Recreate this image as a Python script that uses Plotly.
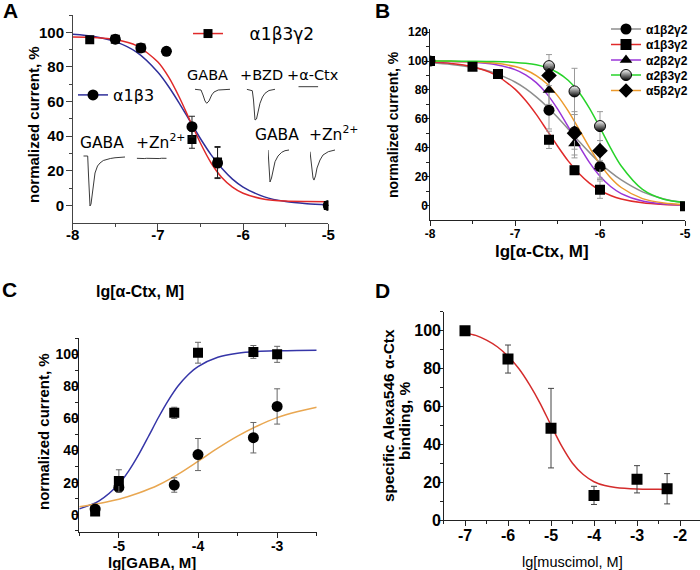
import plotly.graph_objects as go

W, H = 700, 570


def px_x(x):
    return x / W


def px_y(y):
    return 1 - y / H


# ---------------- Panel A data ----------------
a_x_a1b3 = [-7.5, -7.2, -6.9, -6.6, -6.3, -5.0]
a_y_a1b3 = [96, 91, 89, 45.5, 24.5, 0]
a_e_a1b3 = [0, 0, 0, 6, 9, 0]
a_x_a1b3g2 = [-7.8, -7.5, -7.2, -6.6, -6.3, -5.0]
a_y_a1b3g2 = [95.7, 96, 91, 38, 25, 0]
a_e_a1b3g2 = [0, 0, 0, 5, 9, 0]
a_fit_x = [-8, -7.75, -7.5, -7.25, -7, -6.875, -6.75, -6.625, -6.5, -6.375,
           -6.25, -6.125, -6, -5.75, -5.5, -5.25, -5]
a_fit_a1b3 = [98.9, 97.6, 94.6, 88.5, 76.9, 68.7, 59.1, 48.8, 38.5, 29.2,
              21.4, 15.2, 10.6, 4.9, 2.2, 1.0, 0.4]
a_fit_a1b3g2 = [97.3, 97.0, 95.8, 92.3, 82.8, 74.2, 62.6, 49.2, 35.9, 24.5,
                16.1, 10.5, 7.0, 3.6, 2.5, 2.2, 2.1]
a_xticks = [-8, -7, -6, -5]
a_xticktext = ["-8", "-7", "-6", "-5"]
a_yticks = [0, 20, 40, 60, 80, 100]

# current traces shown in panel A (time, s ; normalised current)
tr_ll_gaba_t = [0, 0.44, 0.52, 0.60, 0.67, 0.77, 0.92, 1.17, 1.42, 1.67, 2.0, 2.34, 2.7, 3.17, 3.6, 4.17]
tr_ll_gaba_i = [0, 0, -0.38, -0.88, -1.0, -0.96, -0.68, -0.34, -0.20, -0.14, -0.09, -0.066, -0.05, -0.035, -0.03, -0.02]
tr_ll_zn_t = [0, 0.25, 0.5, 0.75, 1.0, 1.25, 1.5, 1.75, 2.0, 2.25, 2.5, 2.75, 3.0]
tr_ll_zn_i = [0, -0.004, 0.002, -0.005, 0.0, -0.004, 0.002, -0.007, -0.003, -0.005, 0.001, -0.003, 0.0]
tr_u_gaba_t = [0, 0.6, 0.8, 1.0, 1.17, 1.4, 1.67, 1.9, 2.33, 2.9, 3.5]
tr_u_gaba_i = [0, -0.023, -0.184, -0.377, -0.452, -0.377, -0.184, -0.087, -0.023, -0.006, 0]
tr_u_bzd_t = [0, 0.56, 0.68, 0.76, 0.83, 0.98, 1.13, 1.33, 1.58, 1.83, 2.23, 2.83]
tr_u_bzd_i = [0, -0.045, -0.345, -0.732, -0.99, -0.958, -0.732, -0.452, -0.248, -0.129, -0.039, 0]
tr_u_ctx_t = [0, 0.5, 1.0, 1.5, 2.0]
tr_u_ctx_i = [0, -0.005, 0.0, -0.004, 0]
tr_r_gaba_t = [0, 0.07, 0.13, 0.2, 0.35, 0.5, 0.7, 1.0, 1.37, 1.7, 2.1]
tr_r_gaba_i = [0, -0.47, -0.875, -1.0, -0.875, -0.625, -0.366, -0.1875, -0.072, -0.022, 0]
tr_r_zn_t = [0, 0.15, 0.3, 0.4, 0.55, 0.7, 1.0, 1.3, 1.83, 2.5]
tr_r_zn_i = [-0.053, -0.47, -0.875, -0.94, -0.81, -0.5625, -0.3125, -0.156, -0.053, 0]

# ---------------- Panel B data ----------------
b_series = ["α1β2γ2", "α1β3γ2", "α2β2γ2", "α2β3γ2", "α5β2γ2"]
b_x_a1b2g2 = [-8, -6.6, -6.3, -6]
b_y_a1b2g2 = [100, 66, 51, 27]
b_e_a1b2g2 = [0, 13, 12, 9]
b_x_a1b3g2 = [-8, -7.5, -7.2, -6.6, -6.3, -6, -5]
b_y_a1b3g2 = [100, 96, 91, 45.5, 24.5, 11, -0.5]
b_e_a1b3g2 = [0, 0, 0, 6, 3, 6, 0]
b_x_a2b2g2 = [-6.6, -6.3, -6]
b_y_a2b2g2 = [80, 43, 27]
b_e_a2b2g2 = [10, 10, 8]
b_x_a2b3g2 = [-6.6, -6.3, -6]
b_y_a2b3g2 = [96.5, 79, 55]
b_e_a2b3g2 = [8, 16, 10]
b_x_a5b2g2 = [-6.6, -6.3, -6]
b_y_a5b2g2 = [90, 50, 38]
b_e_a5b2g2 = [7, 15, 7]
b_fit_x = [-8, -7.75, -7.5, -7.25, -7, -6.875, -6.75, -6.625, -6.5, -6.375,
           -6.25, -6.125, -6, -5.875, -5.75, -5.5, -5.25, -5]
b_fit_a1b2g2 = [98.8, 97.7, 95.7, 92.0, 85.5, 80.9, 75.2, 68.6, 61.1, 53.0,
                44.7, 36.8, 29.4, 23.1, 17.7, 9.5, 4.6, 2.0]
b_fit_a1b3g2 = [99.3, 98.4, 96.1, 91.0, 80.6, 72.7, 63.1, 52.2, 41.2, 30.9,
                22.3, 15.5, 10.5, 7.0, 4.6, 1.9, 0.8, 0.3]
b_fit_a2b2g2 = [99.9, 99.7, 99.2, 97.8, 94.1, 90.5, 85.1, 77.3, 66.9, 54.6,
                41.8, 29.9, 20.3, 13.2, 8.3, 3.1, 1.1, 0.4]
b_fit_a2b3g2 = [100, 100, 99.9, 99.7, 99.1, 98.5, 97.4, 95.4, 92.1, 86.7,
                78.6, 67.4, 53.9, 39.8, 27.4, 11.2, 4.4, 2.1]
b_fit_a5b2g2 = [99.9, 99.8, 99.5, 98.6, 96.2, 93.8, 90.0, 84.3, 76.1, 65.5,
                53.1, 40.3, 28.7, 19.3, 12.5, 4.8, 1.8, 0.6]
b_yticks = [0, 20, 40, 60, 80, 100, 120]

# ---------------- Panel C data ----------------
c_x = [-5.3, -5, -4.3, -4, -3.3, -3]
c_y_sq = [2, 21, 63.5, 101, 101.5, 100]
c_e_sq = [2, 7, 3.5, 6.5, 4, 5]
c_y_ci = [3.5, 17, 18.5, 37.5, 48, 67.5]
c_e_ci = [0, 0, 4.5, 10, 9.5, 11]
c_fit_x_blue = [-5.5, -5.25, -5, -4.875, -4.75, -4.625, -4.5, -4.375, -4.25,
                -4.125, -4, -3.75, -3.5, -3.25, -3, -2.75, -2.5]
c_fit_blue = [3.6, 8.6, 19.1, 27.3, 37.4, 48.9, 60.6, 71.3, 80.4, 87.3, 92.4,
              98.2, 100.7, 101.8, 102.2, 102.4, 102.5]
c_fit_x_orange = [-5.5, -5.25, -5, -4.75, -4.5, -4.25, -4, -3.75, -3.5, -3.25, -3, -2.75, -2.5]
c_fit_orange = [5.0, 7.0, 9.6, 13.5, 18.5, 25.3, 33.3, 41.5, 49.0, 55.3, 60.5, 64.2, 67.0]
c_xticks = [-5, -4, -3]
c_xticktext = ["-5", "-4", "-3"]

# ---------------- Panel D data ----------------
d_x = [-7, -6, -5, -4, -3, -2.3]
d_y = [100, 85, 48.5, 13, 21.5, 16.5]
d_e = [0, 7.4, 21, 4.8, 7.2, 8]
d_fit_x = [-7, -6.75, -6.5, -6.25, -6, -5.75, -5.5, -5.25, -5, -4.75, -4.5,
           -4.25, -4, -3.75, -3.5, -3, -2.5, -2.3]
d_fit_y = [98.8, 97.5, 95, 91.5, 86.5, 80, 71.5, 61.5, 50, 39, 30, 24, 20.2,
           18.2, 17.2, 16.4, 16.2, 16.1]
d_xticks = [-7, -6, -5, -4, -3, -2]
d_xticktext = ["-7", "-6", "-5", "-4", "-3", "-2"]

# ---------------- colours ----------------
BLUE_A = "#2f2f9a"
RED_A = "#e02a2a"
GRAY_B = "#8e8e8e"
RED_B = "#e02a2a"
PURPLE_B = "#9a36d8"
GREEN_B = "#27d32a"
ORANGE_B = "#ec9a2c"
BLUE_C = "#3636a8"
ORANGE_C = "#e9a751"
RED_D = "#d42c2c"
ARIAL = "Liberation Sans"
DEJAVU = "DejaVu Sans"

fig = go.Figure()


def line(x, y, color, xa, ya, width=1.5):
    fig.add_trace(go.Scatter(x=x, y=y, mode="lines", xaxis=xa, yaxis=ya,
                             line=dict(color=color, width=width, shape="spline", smoothing=0.8),
                             showlegend=False, hoverinfo="skip"))


def pts(x, y, e, symbol, xa, ya, size=10, ecolor="#333", color="black", extra=None):
    marker = dict(symbol=symbol, size=size, color=color, line=dict(width=0))
    if extra:
        marker.update(extra)
    fig.add_trace(go.Scatter(x=x, y=y, mode="markers", xaxis=xa, yaxis=ya,
                             error_y=dict(type="data", array=e, color=ecolor, thickness=1, width=3),
                             marker=marker, showlegend=False, hoverinfo="skip"))


def legend_item(name, color, symbol, legend, size=10, extra=None):
    marker = dict(symbol=symbol, size=size, color="black", line=dict(width=0))
    if extra:
        marker.update(extra)
    fig.add_trace(go.Scatter(x=[None], y=[None], mode="lines+markers", name=name,
                             line=dict(color=color, width=1.5), marker=marker,
                             legend=legend, xaxis="x", yaxis="y"))


# Panel A
line(a_fit_x, a_fit_a1b3, BLUE_A, "x", "y")
line(a_fit_x, a_fit_a1b3g2, RED_A, "x", "y")
pts(a_x_a1b3g2, a_y_a1b3g2, a_e_a1b3g2, "square", "x", "y", size=9, ecolor="#222")
pts(a_x_a1b3, a_y_a1b3, a_e_a1b3, "circle", "x", "y", size=11, ecolor="#222")
legend_item("\u00a0\u00a0\u00a0\u00a0α1β3γ2", RED_A, "square", "legend2", size=9)
legend_item("α1β3", BLUE_A, "circle", "legend3", size=11)

half = dict(color="white", line=dict(color="black", width=1),
            gradient=dict(type="vertical", color="black"))

# Panel B
line(b_fit_x, b_fit_a1b2g2, GRAY_B, "x2", "y2")
line(b_fit_x, b_fit_a1b3g2, RED_B, "x2", "y2")
line(b_fit_x, b_fit_a2b2g2, PURPLE_B, "x2", "y2")
line(b_fit_x, b_fit_a5b2g2, ORANGE_B, "x2", "y2")
line(b_fit_x, b_fit_a2b3g2, GREEN_B, "x2", "y2")
pts(b_x_a1b2g2, b_y_a1b2g2, b_e_a1b2g2, "circle", "x2", "y2", size=11, ecolor="#999")
pts(b_x_a1b3g2, b_y_a1b3g2, b_e_a1b3g2, "square", "x2", "y2", size=10, ecolor="#999")
pts(b_x_a2b2g2, b_y_a2b2g2, b_e_a2b2g2, "triangle-up", "x2", "y2", size=11, ecolor="#999")
pts(b_x_a2b3g2, b_y_a2b3g2, b_e_a2b3g2, "circle", "x2", "y2", size=11, ecolor="#999", extra=half)
pts(b_x_a5b2g2, b_y_a5b2g2, b_e_a5b2g2, "diamond", "x2", "y2", size=12, ecolor="#999")
b_colors = [GRAY_B, RED_B, PURPLE_B, GREEN_B, ORANGE_B]
b_symbols = ["circle", "square", "triangle-up", "circle", "diamond"]
b_legends = ["legend", "legend4", "legend5", "legend6", "legend7"]
b_legend_tops = [14.5, 30, 45.5, 60.5, 76]
for i, name in enumerate(b_series):
    legend_item(name, b_colors[i], b_symbols[i], b_legends[i], size=11,
                extra=half if i == 3 else None)

# Panel C
line(c_fit_x_blue, c_fit_blue, BLUE_C, "x3", "y3")
line(c_fit_x_orange, c_fit_orange, ORANGE_C, "x3", "y3")
pts(c_x, c_y_ci, c_e_ci, "circle", "x3", "y3", size=11, ecolor="#666")
pts(c_x, c_y_sq, c_e_sq, "square", "x3", "y3", size=10, ecolor="#666")

# Panel D
line(d_fit_x, d_fit_y, RED_D, "x4", "y4")
pts(d_x, d_y, d_e, "square", "x4", "y4", size=11, ecolor="#444")

# current-trace insets
insets = [
    (tr_ll_gaba_t, tr_ll_gaba_i, 83.3, 156, 50),
    (tr_ll_zn_t, tr_ll_zn_i, 136.7, 158.3, 50),
    (tr_u_gaba_t, tr_u_gaba_i, 195, 89.3, 31),
    (tr_u_bzd_t, tr_u_bzd_i, 246.7, 89.3, 31),
    (tr_u_ctx_t, tr_u_ctx_i, 298.3, 86.7, 31),
    (tr_r_gaba_t, tr_r_gaba_i, 268, 150, 32),
    (tr_r_zn_t, tr_r_zn_i, 310, 150, 32),
]

layout_axes = {}
for k, (t, cur, x0, base, scale) in enumerate(insets):
    n = 5 + k
    fig.add_trace(go.Scatter(x=t, y=cur, mode="lines", xaxis=f"x{n}", yaxis=f"y{n}",
                             line=dict(color="#3a3a3a", width=1), showlegend=False,
                             hoverinfo="skip"))
    span = t[-1]
    layout_axes[f"xaxis{n}"] = dict(domain=[px_x(x0), px_x(x0 + span * 10)], range=[0, span],
                                    visible=False, anchor=f"y{n}", fixedrange=True)
    layout_axes[f"yaxis{n}"] = dict(domain=[px_y(base + 1.1 * scale), px_y(base - 0.1 * scale)],
                                    range=[-1.1, 0.1], visible=False, anchor=f"x{n}", fixedrange=True)


def main_axis(domain, rng, minor_vals, tickvals, anchor, lc="#222", ticklen=5):
    return dict(domain=domain, range=rng, tickmode="array", tickvals=tickvals,
                showticklabels=False,
                showline=True, linecolor=lc, linewidth=1, ticks="outside", ticklen=ticklen,
                tickwidth=1, tickcolor=lc,
                minor=dict(tickmode="array", tickvals=minor_vals, ticks="outside",
                           ticklen=max(3, ticklen - 3), tickwidth=1, tickcolor=lc),
                showgrid=False, zeroline=False, anchor=anchor, fixedrange=True)


def label_axis(base, rng, tickvals, ticktext, size, position, side):
    return dict(overlaying=base, anchor="free", position=position, side=side, range=rng,
                tickmode="array", tickvals=tickvals, ticktext=ticktext, ticks="",
                showline=False, showgrid=False, zeroline=False, fixedrange=True,
                tickfont=dict(family=ARIAL, size=size, color="black", weight="bold"))


yt = lambda vals: [str(v) for v in vals]

# (x-domain px, y-domain px, x-range, y-range, xticks, xtext, yticks, minor x, minor y,
#  font size, x-label line py, y-label line px, axis colour, tick length)
panels = [
    ((72.7, 328.3), (222.7, 15), [-8, -5], [-10, 110], a_xticks, a_xticktext, a_yticks,
     [-7.5, -6.5, -5.5], [10, 30, 50, 70, 90, 110], 15, 223.6, 64.0, "#444", 6),
    ((430, 685), (220, 29.3), [-8, -5], [-10, 122], a_xticks, a_xticktext, b_yticks,
     [-7.5, -6.5, -5.5], [10, 30, 50, 70, 90, 110], 12, 225.0, 428.0, "#222", 5),
    ((79.3, 316.7), (532.3, 338.3), [-5.5, -2.5], [-11, 110], c_xticks, c_xticktext, a_yticks,
     [-5.5, -4.5, -3.5, -2.5], [-10, 10, 30, 50, 70, 90, 110], 14, 536.0, 78.8, "#222", 5),
    ((443.5, 700), (520, 311.7), [-7.5, -1.535], [0, 110], d_xticks, d_xticktext, a_yticks,
     [-7.5, -6.5, -5.5, -4.5, -3.5, -2.5], [10, 30, 50, 70, 90, 110], 16, 524.3, 441.0, "#222", 5),
]

for p, (xd, yd, xr, yr, xt, xtt, ytk, mx, my, fs, xl, yl, lc, tl) in enumerate(panels):
    s = "" if p == 0 else str(p + 1)
    lab = str(12 + p)
    layout_axes["xaxis" + s] = main_axis([px_x(xd[0]), px_x(xd[1])], xr, mx, xt, "y" + s, lc, tl)
    layout_axes["yaxis" + s] = main_axis([px_y(yd[0]), px_y(yd[1])], yr, my, ytk, "x" + s, lc, tl)
    layout_axes["xaxis" + lab] = label_axis("x" + s, xr, xt, xtt, fs, px_y(xl), "bottom")
    layout_axes["yaxis" + lab] = label_axis("y" + s, yr, ytk, yt(ytk), fs, px_x(yl), "left")
    # empty traces so that the tick-label axes are drawn
    fig.add_trace(go.Scatter(x=[None], y=[None], xaxis="x" + lab, yaxis="y" + s,
                             showlegend=False, hoverinfo="skip"))
    fig.add_trace(go.Scatter(x=[None], y=[None], xaxis="x" + s, yaxis="y" + lab,
                             showlegend=False, hoverinfo="skip"))


def ann(text, x, y, size, bold=True, family=ARIAL, angle=0, xanchor="center"):
    return dict(text=text, x=px_x(x), y=px_y(y), xref="paper", yref="paper", showarrow=False,
                xanchor=xanchor, yanchor="middle", textangle=angle,
                font=dict(family=family, size=size, color="black",
                          weight="bold" if bold else "normal"))


annotations = [
    ann("A", 10, 10, 21), ann("B", 382, 10, 21), ann("C", 9, 289, 21), ann("D", 382, 290, 21),
    ann("GABA", 207, 75, 14.5, bold=False, family=DEJAVU),
    ann("+BZD", 261, 75, 14.5, bold=False, family=DEJAVU),
    ann("+α-Ctx", 313, 75, 14.5, bold=False, family=DEJAVU),
    ann("GABA", 102, 143, 15.5, bold=False, family=DEJAVU),
    ann("+Zn<sup>2+</sup>", 134, 141, 15.5, bold=False, family=DEJAVU, xanchor="left"),
    ann("GABA", 276.5, 135, 15.5, bold=False, family=DEJAVU),
    ann("+Zn<sup>2+</sup>", 307, 133, 15.5, bold=False, family=DEJAVU, xanchor="left"),
    ann("normalized current, %", 33, 125, 15, angle=-90),
    ann("lg[α-Ctx, M]", 140, 291, 16),
    ann("normalized current, %", 393, 125, 14, angle=-90),
    ann("lg[α-Ctx, M]", 542, 251, 17),
    ann("normalized current, %", 43, 432, 15, angle=-90),
    ann("lg[GABA, M]", 152, 562, 15),
    ann("specific Alexa546 α-Ctx", 388, 416, 15.5, angle=-90),
    ann("binding, %", 404, 421, 15.5, angle=-90),
    ann("lg[muscimol, M]", 572, 562, 14.5, bold=False),
]

legends = {}
for i, lg in enumerate(b_legends):
    legends[lg] = dict(x=px_x(606), y=px_y(b_legend_tops[i]), xanchor="left", yanchor="top",
                       bgcolor="rgba(0,0,0,0)",
                       font=dict(family=ARIAL, size=12, color="black", weight="bold"))
legends["legend2"] = dict(x=px_x(188), y=px_y(16), xanchor="left", yanchor="top",
                          bgcolor="rgba(0,0,0,0)",
                          font=dict(family=DEJAVU, size=17, color="black"))
legends["legend3"] = dict(x=px_x(73), y=px_y(78), xanchor="left", yanchor="top",
                          bgcolor="rgba(0,0,0,0)",
                          font=dict(family=DEJAVU, size=16, color="black"))

fig.update_layout(
    width=W, height=H, margin=dict(l=0, r=0, t=0, b=0),
    template="none", paper_bgcolor="white", plot_bgcolor="rgba(0,0,0,0)",
    annotations=annotations,
    **legends,
    **layout_axes,
)

fig.write_html("out.html", config={"displayModeBar": False},
               post_script="document.body.style.margin='0';document.body.style.padding='0';")
